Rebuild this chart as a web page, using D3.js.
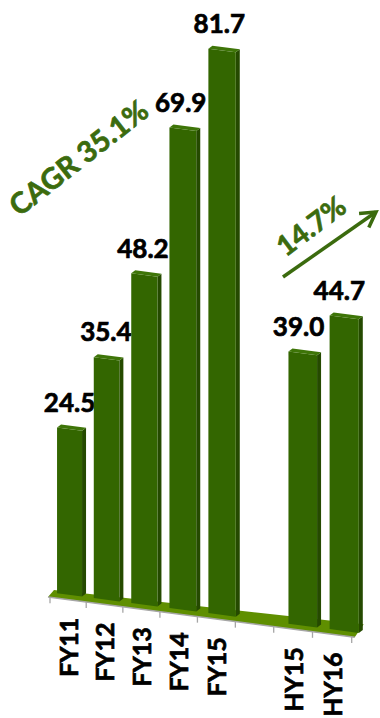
<!DOCTYPE html>
<html><head><meta charset="utf-8">
<script src="https://cdn.jsdelivr.net/npm/d3@7"></script>
<style>body{margin:0;background:#fff}svg{display:block}</style>
</head><body>
<svg id="c" width="380" height="718"></svg>
<script>
// ---- data ----
const categories  = ["FY11","FY12","FY13","FY14","FY15","","HY15","HY16"];
const values      = [24.5, 35.4, 48.2, 69.9, 81.7, null, 39.0, 44.7];
const valueLabels = ["24.5","35.4","48.2","69.9","81.7","","39.0","44.7"];
const cagrLabel   = "CAGR 35.1%";
const hyGrowthLabel = "14.7%";

// ---- styles ----
const FRONT = "#336600", SIDE = "#254a00", TOP = "#3e7508", FLOOR = "#5f8f00";
const AXIS = "#a6a6a6", GREEN_TXT = "#3b6b0e";
const FONT = "Lato, 'Open Sans', sans-serif";

const svg = d3.select("#c");

// slot index -> 0..1
const slot = d3.scaleLinear().domain([0, categories.length]).range([0, 1]);
// perspective warp along the front axis (ticks / category labels)
const axisX = u => { const t = slot(u); return 50 + 288 * t + 13.7 * t * t; };
// perspective warp at bar depth (bar centers)
const barX = u => { const t = slot(u); return 51.3 + 290.4 * t + 23.5 * t * t; };
// front axis line is straight in screen space
const axisY = d3.scaleLinear().domain([48, 352]).range([597, 637]);
// value -> height (with perspective factor by slot)
const hScale = d3.scaleLinear().domain([0, 100]).range([0, 680]);
const persp = i => 0.9952 + 0.0052 * i;

// ---- floor ----
const fl = axisX(0) - 2, fr = axisX(categories.length) + 3;
const floorPts = [
  [fl, axisY(fl)], [fr, axisY(fr)],
  [fr + 9, axisY(fr) - 13], [fl + 6, axisY(fl) - 7]
];
svg.append("polygon").attr("points", floorPts.map(p => p.join(",")).join(" ")).attr("fill", FLOOR);

// axis line & ticks
svg.append("line").attr("x1", fl).attr("y1", axisY(fl)).attr("x2", fr).attr("y2", axisY(fr))
  .attr("stroke", AXIS).attr("stroke-width", 1.5);
d3.range(categories.length + 1).forEach(j => {
  const x = axisX(j);
  svg.append("line").attr("x1", x).attr("x2", x).attr("y1", axisY(x)).attr("y2", axisY(x) + 6)
    .attr("stroke", AXIS).attr("stroke-width", 1.3);
});

// ---- bars ----
const base = x => axisY(x) - 5;
const SD = 4, SDY = 3;
values.forEach((v, i) => {
  if (v == null) return;
  const c = barX(i + 0.5);
  const w = 25 + 0.6 * i;
  const x0 = c - w / 2, x1 = c + w / 2;
  const h = hScale(v) * persp(i);
  const y0 = base(x0), y1 = base(x1);
  const g = svg.append("g");
  g.append("polygon").attr("fill", SIDE)
    .attr("points", [[x1, y1], [x1 + SD, y1 - SDY], [x1 + SD, y1 - h - SDY], [x1, y1 - h]].map(p => p.join(",")).join(" "));
  g.append("polygon").attr("fill", FRONT)
    .attr("points", [[x0, y0], [x1, y1], [x1, y1 - h], [x0, y0 - h]].map(p => p.join(",")).join(" "));
  g.append("polygon").attr("fill", TOP)
    .attr("points", [[x0, y0 - h], [x1, y1 - h], [x1 + SD, y1 - h - SDY], [x0 + SD, y0 - h - SDY]].map(p => p.join(",")).join(" "));
  // value label
  const topY = base(c) - h;
  svg.append("text").attr("x", c - 0.7 * i).attr("y", topY - 17.5)
    .attr("text-anchor", "middle").attr("font-family", FONT).attr("font-weight", 700)
    .attr("font-size", 26).attr("fill", "#000").attr("stroke", "#000").attr("stroke-width", 0.7)
    .text(valueLabels[i]);
});

// ---- category labels ----
categories.forEach((cat, i) => {
  if (!cat) return;
  const cx = axisX(i + 0.5);
  svg.append("text")
    .attr("transform", `translate(${cx + 9.5},${axisY(cx) + 18}) rotate(-90)`)
    .attr("text-anchor", "end").attr("font-family", FONT).attr("font-weight", 700)
    .attr("font-size", 25).attr("fill", "#000").attr("stroke", "#000").attr("stroke-width", 0.7)
    .text(cat);
});

// ---- annotations ----
svg.append("text").attr("transform", "translate(85,166) rotate(-38)")
  .attr("text-anchor", "middle").attr("font-family", FONT).attr("font-weight", 700)
  .attr("font-size", 29).attr("fill", GREEN_TXT).attr("stroke", GREEN_TXT).attr("stroke-width", 0.7)
  .text(cagrLabel);
svg.append("text").attr("transform", "translate(317,234) rotate(-37)")
  .attr("text-anchor", "middle").attr("font-family", FONT).attr("font-weight", 700)
  .attr("font-size", 28).attr("fill", GREEN_TXT).attr("stroke", GREEN_TXT).attr("stroke-width", 0.7)
  .text(hyGrowthLabel);

const ax0 = [283, 277], ax1 = [376, 212];
const ang = Math.atan2(ax1[1] - ax0[1], ax1[0] - ax0[0]);
const hl = 17, ha = Math.PI / 6;
svg.append("line").attr("x1", ax0[0]).attr("y1", ax0[1]).attr("x2", ax1[0]).attr("y2", ax1[1])
  .attr("stroke", GREEN_TXT).attr("stroke-width", 3.5);
svg.append("path").attr("fill", "none").attr("stroke", GREEN_TXT).attr("stroke-width", 3.5)
  .attr("stroke-linejoin", "miter")
  .attr("d", `M${ax1[0] - hl * Math.cos(ang - ha)},${ax1[1] - hl * Math.sin(ang - ha)} L${ax1[0]},${ax1[1]} L${ax1[0] - hl * Math.cos(ang + ha)},${ax1[1] - hl * Math.sin(ang + ha)}`);
</script>
</body></html>
